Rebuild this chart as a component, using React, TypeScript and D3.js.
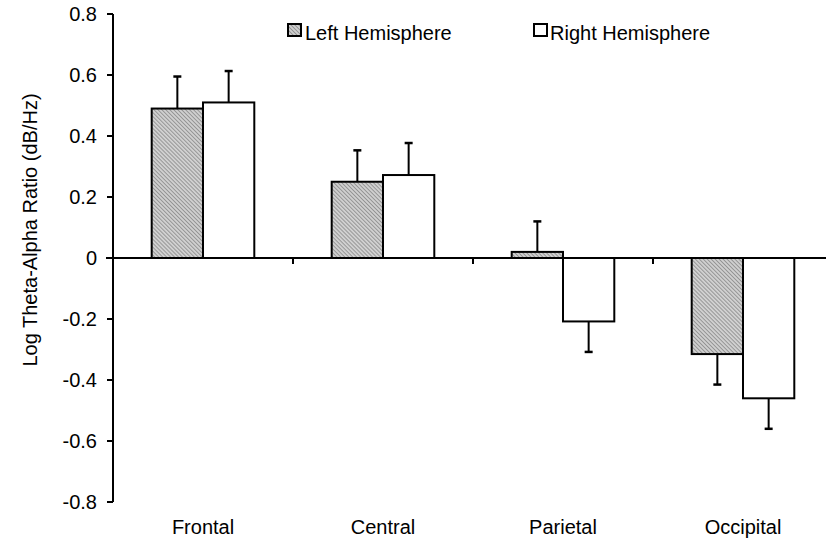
import React from "react";
import * as d3 from "d3";

const categories = ["Frontal", "Central", "Parietal", "Occipital"];
const seriesNames = ["Left Hemisphere", "Right Hemisphere"];
const leftValues = [0.49, 0.25, 0.02, -0.315];
const rightValues = [0.51, 0.272, -0.208, -0.46];
const leftErrors = [0.105, 0.103, 0.1, 0.1];
const rightErrors = [0.103, 0.105, 0.1, 0.1];
const yTicks = [0.8, 0.6, 0.4, 0.2, 0, -0.2, -0.4, -0.6, -0.8];

const W = 826;
const H = 540;
const font = "Liberation Sans, Arial, sans-serif";
const fs = 20;

export default function App() {
  const y = d3.scaleLinear().domain([-0.8, 0.8]).range([502, 14]);
  const x0 = d3.scaleBand().domain(categories).range([113, 833]).paddingInner(0.43).paddingOuter(0.215);
  const x1 = d3.scaleBand().domain(seriesNames).range([0, x0.bandwidth()]);
  const series = [
    { name: seriesNames[0], values: leftValues, errors: leftErrors, fill: "url(#hatch)" },
    { name: seriesNames[1], values: rightValues, errors: rightErrors, fill: "#fff" },
  ];
  const boundaries = d3.range(1, categories.length).map((i) => 113 + (720 / categories.length) * i);
  const fmt = (v: number) => (v === 0 ? "0" : d3.format(".1f")(v).replace("\u2212", "-"));

  return (
    <svg width={W} height={H} style={{ position: "absolute", left: 0, top: 0, background: "#fff" }}>
      <defs>
        <pattern id="hatch" patternUnits="userSpaceOnUse" width="2.8" height="2.8" patternTransform="rotate(-45)">
          <rect width="2.8" height="2.8" fill="#d0d0d0" />
          <line x1="0" y1="0" x2="0" y2="2.8" stroke="#7a7a7a" strokeWidth="1.3" />
        </pattern>
      </defs>
      {series.map((s) =>
        categories.map((c, i) => {
          const v = s.values[i];
          const bx = (x0(c) as number) + (x1(s.name) as number);
          const bw = x1.bandwidth();
          const top = y(Math.max(v, 0));
          const bot = y(Math.min(v, 0));
          const cx = bx + bw / 2;
          const errEnd = v >= 0 ? y(v + s.errors[i]) : y(v - s.errors[i]);
          const errStart = y(v);
          return (
            <g key={s.name + c}>
              <line x1={cx} x2={cx} y1={errStart} y2={errEnd} stroke="#000" strokeWidth={2} />
              <line x1={cx - 4} x2={cx + 4} y1={errEnd} y2={errEnd} stroke="#000" strokeWidth={2.5} />
              <rect x={bx} y={top} width={bw} height={bot - top} fill={s.fill} stroke="#000" strokeWidth={2} />
            </g>
          );
        })
      )}
      <line x1={106} x2={826} y1={y(0)} y2={y(0)} stroke="#000" strokeWidth={2} />
      {boundaries.map((b, i) => (
        <line key={i} x1={b} x2={b} y1={y(0)} y2={y(0) + 6} stroke="#000" strokeWidth={2} />
      ))}
      <line x1={113} x2={113} y1={y(0.8)} y2={y(-0.8)} stroke="#000" strokeWidth={2} />
      {yTicks.map((t) => (
        <g key={t}>
          <line x1={107} x2={113} y1={y(t)} y2={y(t)} stroke="#000" strokeWidth={2} />
          <text x={97} y={y(t)} dy="0.35em" textAnchor="end" fontFamily={font} fontSize={fs} fill="#000">
            {fmt(t)}
          </text>
        </g>
      ))}
      {categories.map((c) => (
        <text key={c} x={(x0(c) as number) + x0.bandwidth() / 2} y={534} textAnchor="middle" fontFamily={font} fontSize={fs} fill="#000">
          {c}
        </text>
      ))}
      <text transform="translate(37,230) rotate(-90)" textAnchor="middle" fontFamily={font} fontSize={fs} fill="#000">
        Log Theta-Alpha Ratio (dB/Hz)
      </text>
      <g>
        <rect x={288} y={24} width={13} height={12} fill="url(#hatch)" stroke="#000" strokeWidth={2} />
        <text x={305} y={40} fontFamily={font} fontSize={fs} fill="#000">{seriesNames[0]}</text>
        <rect x={534} y={24} width={13} height={12} fill="#fff" stroke="#000" strokeWidth={2} />
        <text x={550} y={40} fontFamily={font} fontSize={fs} fill="#000">{seriesNames[1]}</text>
      </g>
    </svg>
  );
}
